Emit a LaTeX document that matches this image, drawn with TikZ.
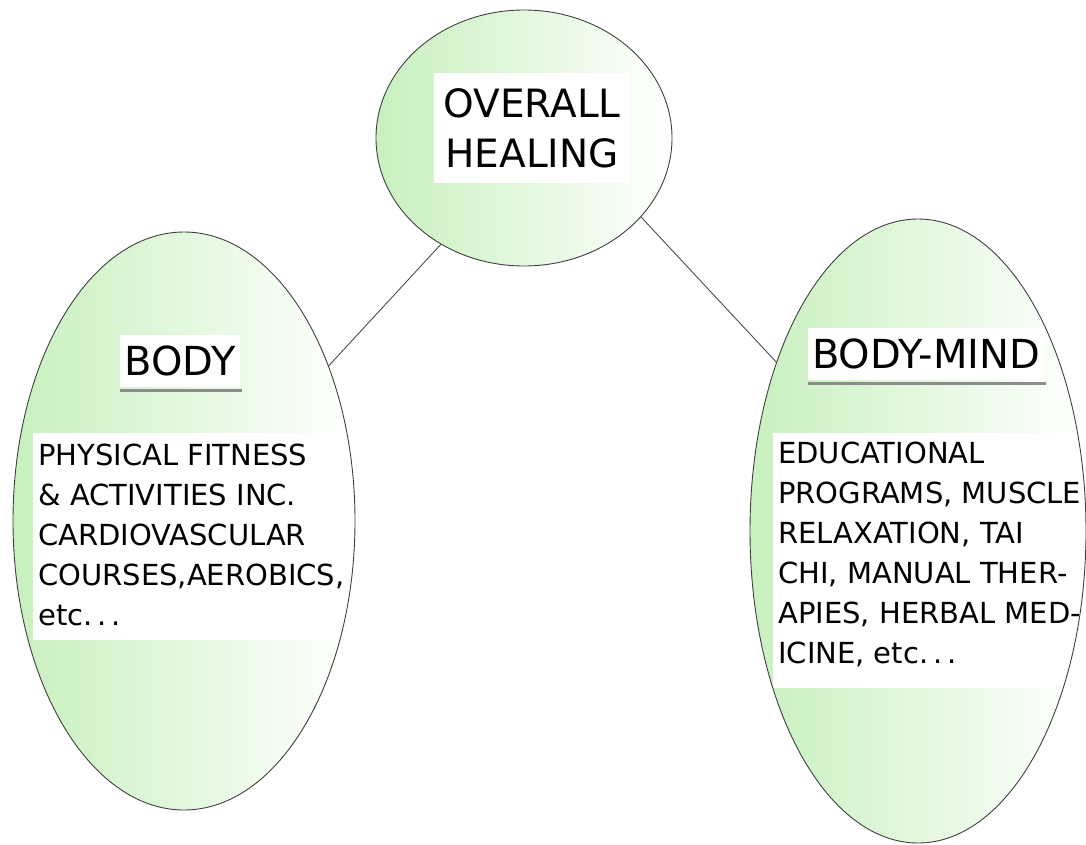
\documentclass[tikz,border=0pt]{standalone}
\usepackage{fontspec}
\setmainfont{DejaVu Sans}
\usetikzlibrary{shapes.geometric,calc}
\definecolor{leafgreen}{RGB}{200,240,190}
\definecolor{ulinegray}{RGB}{140,140,140}
\tikzset{
  bubble/.style={ellipse, inner sep=0pt, left color=leafgreen, right color=white},
  outl/.style={draw=black!75, line width=0.9pt},
  link/.style={draw=black!70, line width=0.9pt},
  titlebox/.style={fill=white, inner xsep=4pt, inner ysep=0pt, minimum height=52pt,
    font=\fontsize{40}{48}\selectfont},
  whitebox/.style={fill=white, inner sep=0pt, anchor=north west},
  bodytext/.style={inner sep=0pt, anchor=north west, align=left,
    font=\fontsize{29}{40}\selectfont},
  uline/.style={draw=ulinegray, line width=2.8pt},
}
\begin{document}
\begin{tikzpicture}[x=1pt,y=-1pt]
\useasboundingbox (0,0) rectangle (1086,845);
% ellipses (fill)
\node[bubble, minimum width=296, minimum height=256] (top) at (524,138) {};
\node[bubble, minimum width=342, minimum height=578] (left) at (184,521) {};
\node[bubble, minimum width=336, minimum height=624] (right) at (918,531) {};
% connectors
\draw[link] (top.232) -- (left.47);
\draw[link] (top.326) -- (right.130);
% top label
\node[fill=white, align=center, inner sep=0pt, minimum width=196, minimum height=110,
  font=\fontsize{39}{50}\selectfont] (overall) at (532,128) {OVERALL\\HEALING};
% titles
\node[titlebox] (body) at (180,361) {BODY};
\draw[uline] ($(body.south west)+(0,3)$) -- ($(body.south east)+(2,3)$);
\node[titlebox] (bodymind) at (926,354) {BODY-MIND};
\draw[uline] ($(bodymind.south west)+(0,3)$) -- ($(bodymind.south east)+(2,3)$);
% text boxes
\node[whitebox, minimum width=317, minimum height=207] (lbox) at (33,433) {};
\node[bodytext] (ltext) at (38,444) {PHYSICAL FITNESS\\ \& ACTIVITIES INC.\\ CARDIOVASCULAR\\ COURSES,AEROBICS,\\ etc.\,.\,.};
\node[whitebox, minimum width=309, minimum height=255] (rbox) at (773,433) {};
\node[bodytext] (rtext) at (778,442) {EDUCATIONAL\\ PROGRAMS, MUSCLE\\ RELAXATION, TAI\\ CHI, MANUAL THER-\\ APIES, HERBAL MED-\\ ICINE, etc.\,.\,.};
% outlines on top
\draw[outl] (top.center) ellipse [x radius=148, y radius=128];
\draw[outl] (left.center) ellipse [x radius=171, y radius=289];
\draw[outl] (right.center) ellipse [x radius=168, y radius=312];
\end{tikzpicture}
\end{document}
